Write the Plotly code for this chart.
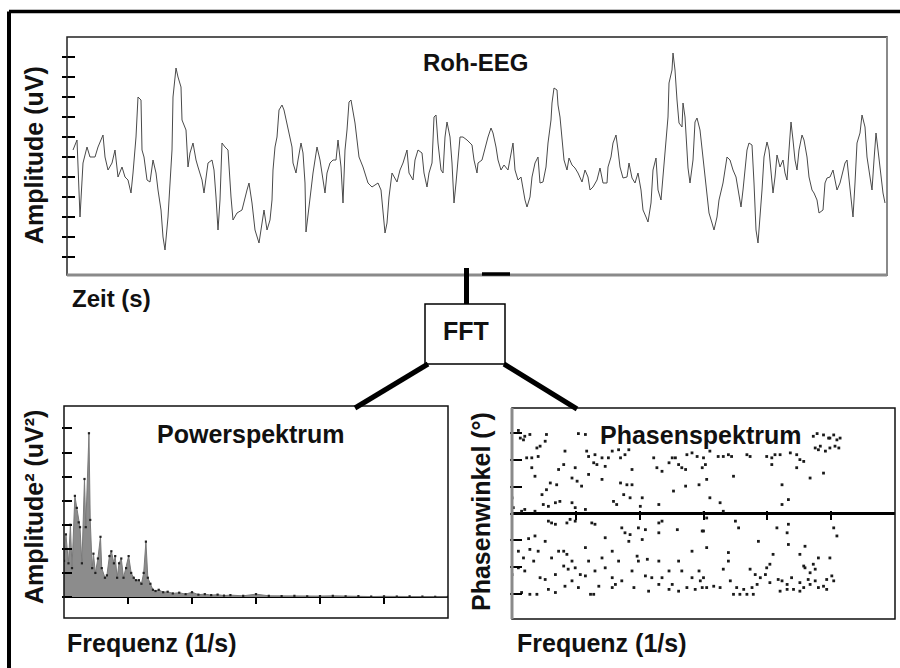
import plotly.graph_objects as go

# ---------------- data ----------------
# Raw EEG: time in samples, amplitude in uV
eeg_t = [6,10,13,15,16,20,23,28,31,36,38,41,45,48,51,55,58,61,64,66,69,71,74,75,77,80,83,86,89,91,94,96,98,101,103,105,106,109,111,114,115,119,121,123,126,129,131,135,137,141,145,147,149,151,153,155,158,161,164,166,170,175,180,182,185,188,192,195,197,200,203,
         205,206,208,210,212,215,217,220,222,225,226,229,231,234,236,238,239,241,244,246,248,250,253,256,258,260,263,266,269,271,274,276,278,280,282,284,286,288,290,292,296,299,301,305,308,311,314,316,318,320,322,325,327,330,333,336,340,342,346,348,351,355,357,360,362,365,367,369,371,374,376,378,380,383,385,387,389,391,393,396,400,405,407,410,
         411,415,418,421,424,426,429,431,434,437,441,443,446,448,451,454,456,458,460,463,465,468,471,473,476,479,481,484,485,487,490,491,493,495,497,500,502,505,508,511,515,518,521,523,526,530,533,536,540,541,544,546,549,551,553,556,560,562,565,568,571,574,576,579,581,584,586,589,591,594,596,599,601,602,605,606,608,610,612,615,
         616,618,620,621,623,626,628,630,633,636,638,640,642,645,647,650,652,656,658,660,663,666,669,671,674,676,678,680,682,685,687,689,691,693,695,697,700,702,704,706,708,710,713,716,718,720,722,724,726,728,730,732,735,737,740,742,745,747,750,752,756,758,760,763,766,768,770,773,776,778,780,783,786,788,790,793,795,798,800,803,805,807,809,811,814,816,818]
eeg_uv = [3.5,8.5,-30,-11.5,-3,5,0,0,5,11,0,-6.5,-3,3.5,-10,-5,-10,-11.5,-18,-8,10,30,28.5,3.5,0,-11.5,-12.5,-1.5,-8,-16.5,-26.5,-40,-46.5,-30,-13,3.5,30,44.5,40,35,18.5,13.5,-5,2,7,-1.5,-5,-11.5,-18,-3,-1.5,-6.5,-20,-36.5,-21.5,7,5,3.5,-20,-31.5,-28,-26.5,-16.5,-13,-23,-36.5,-43,-33,-26.5,-36.5,-31.5,
          -21.5,-6.5,5,10,23.5,26,23.5,16,12,5,-3,-8,-1.5,7,2,-13,-37.5,-30,-16.5,-8,-1.5,5,-1.5,-13,-18,-8,-3,-1.5,-1.5,8.5,-5,-23,3.5,13.5,27.5,28.5,23.5,17,8.5,0,-5,-10,-13,-15,-14,-13,-16.5,-26.5,-38,-33,-20,-8,-10,-12.5,-6.5,-3,3.5,-8,-11.5,-1.5,3.5,2,-8,-15,-8,-3,20,21,7,-6.5,-8,10,17.5,10,-3,-23,-13,0,10,10,8.5,6,-1.5,-8,
          -3,-1.5,5,10,14.5,12,5,-1.5,-6.5,-4,-6.5,-1.5,7,-6.5,-11.5,-10,-16.5,-21.5,-25,-20,-10,-3,0,-13,-12.5,-5,7,18.5,27,34.5,33.5,26,20,10,-1.5,-6.5,-0.5,-4,-5.5,-8,-12.5,-6.5,-10,-16.5,-15,-11.5,-5.5,-13,-13,-5,0,7,11,3.5,-5,-10.5,-10,-3,-10.5,-13,-8,-16.5,-26.5,-30,-32.5,-23,-6.5,-0.5,-16.5,-21.5,-10,5,20,37,43.5,52,43.5,28.5,17,15,
          27,20,3.5,-5.5,-13,-1.5,17.5,19.5,13.5,0,-10,-18,-28,-33,-36.5,-30,-21.5,-13,-5,0,-1.5,-6.5,-10,-16.5,-25,-16.5,-6.5,3.5,7,6,-13,-36.5,-43,-31.5,-16.5,0,7.5,3.5,-6.5,-18,-10,1,-5,-1.5,-8,-11.5,3.5,17.5,8.5,-1.5,-6.5,3.5,11,8.5,0,-10,-16.5,-18,-21.5,-28,-26.5,-13,-10.5,-10,-6.5,-11.5,-16.5,-13,-6.5,-3,-1.5,-16.5,-30,-13,7,12,21,15,0,-10,-16.5,-1.5,12,3.5,-10,-18,-23]
eeg_ticks = [-50, -40, -30, -20, -10, 0, 10, 20, 30, 40, 50]

# Power spectrum: frequency (Hz), power (uV^2)
pow_f = [0,0.3,0.7,1.0,1.25,1.7,2.0,2.3,2.5,2.8,3.2,3.4,3.9,4.1,4.4,4.6,4.9,5.3,5.7,5.9,6.4,6.7,7.1,7.4,7.8,8.0,8.3,8.6,8.95,9.3,9.7,10.1,10.5,10.9,11.25,11.7,12.1,12.45,12.8,13.1,13.5,13.9,14.3,
         14.8,15.5,16.2,17,18,19,20,21,22,23,24,25,26,28,30,32,34,36,38,40,42,44,46,48,50,52,54,56,58,60]
pow_p = [1.5,2.6,1.4,3.0,1.2,4.2,3.7,3.1,2.9,1.4,4.9,2.9,6.8,3.2,1.2,1.8,1.0,1.6,2.5,1.2,0.8,0.9,1.7,1.9,1.4,1.7,0.8,1.4,1.6,0.8,1.2,1.7,1.0,0.8,0.7,0.7,0.55,1.0,2.3,0.8,0.55,0.3,0.25,
         0.3,0.2,0.22,0.15,0.18,0.12,0.2,0.1,0.12,0.08,0.1,0.06,0.08,0.05,0.12,0.05,0.04,0.05,0.03,0.04,0.05,0.03,0.04,0.02,0.03,0.02,0.03,0.02,0.01,0.01]
pow_ticks_y = [0, 1, 2, 3, 4, 5, 6, 7]
freq_ticks = [10, 20, 30, 40, 50]

# Phase spectrum: frequency (Hz), phase angle (deg)
ph_f = [1.0,1.3,1.8,2.0,2.8,3.9,4.4,5.4,5.2,2.3,3.1,4.1,3.1,3.6,4.7,5.4,6.0,7.0,7.3,8.1,8.3,9.4,9.9,10.2,10.4,11.5,11.7,12.0,12.8,13.3,13.0,14.1,14.6,15.1,15.7,16.7,17.0,17.7,18.3,18.8,18.0,17.0,15.9,16.4,17.5,18.5,18.8,20.4,20.1,23.0,22.2,22.7,23.5,24.6,25.1,25.6,26.1,26.6,27.2,27.4,28.2,29.0,29.8,29.3,27.2,25.3,6.8,7.5,9.4,9.9,11.5,12.0,14.1,10.9,2.0,3.6,5.7,4.9,0.2,1.5,0.0,
        5.7,6.2,6.8,8.6,9.1,9.9,12.5,13.0,17.2,17.7,18.5,19.8,20.9,23.0,23.5,25.9,29.8,23.0,20.4,18.3,14.6,11.5,8.1,7.3,5.2,3.6,2.6,1.0,1.8,2.8,4.1,3.4,6.2,8.6,9.4,12.0,14.1,15.7,16.7,19.6,19.8,21.2,23.0,26.1,28.2,29.3,1.0,2.0,4.4,5.2,6.8,8.1,8.8,9.9,10.7,11.5,13.0,14.6,15.7,17.2,18.8,20.9,21.9,23.5,24.6,25.1,26.6,28.2,29.5,1.5,2.8,3.9,5.7,6.8,8.3,9.4,10.4,12.3,12.8,13.6,15.7,16.2,19.1,21.4,23.0,24.6,26.1,27.4,28.7,29.8,0.0,
        30.0,31.0,32.3,33.1,33.9,34.4,36.8,37.3,39.9,40.7,41.2,42.0,43.6,44.6,45.1,40.7,44.6,45.7,46.7,48.8,47.8,48.8,49.6,50.4,50.9,48.3,49.1,49.8,50.6,51.2,51.4,49.8,47.5,47.2,48.0,30.3,34.7,42.3,43.3,42.3,30.5,31.0,32.6,33.1,30.0,
        30.5,35.0,35.5,30.0,30.5,38.6,41.5,43.1,43.3,50.4,50.9,43.3,45.9,33.9,33.9,40.9,45.1,48.0,47.2,45.7,40.4,39.9,37.3,38.1,38.9,39.7,40.4,41.7,42.3,43.1,43.8,45.1,45.7,46.4,46.7,47.5,48.0,48.8,49.3,50.1,50.4,45.9,47.5,46.7,34.2,35.2,34.7,35.7,36.3,36.8,37.6,38.4,32.6,30.5,31.6,37.8,42.0,43.1,44.1,45.1,49.3,49.8,33.1,30.0]
ph_deg = [185,168,164,172,176,146,150,176,161,124,124,127,102,83,42,53,68,64,98,109,139,79,102,72,178,176,139,127,113,109,131,124,105,124,139,142,124,131,142,98,64,68,27,20,42,35,64,35,16,20,124,102,94,113,124,124,109,102,98,131,135,127,102,64,61,50,24,27,24,13,9,87,76,61,9,5,16,20,13,5,35,
          -17,-21,-24,-21,-13,-17,-21,-24,-32,-43,-47,-32,-36,-21,-17,-36,-39,-43,-58,-62,-54,-76,-84,-84,-62,-50,-56,-84,-99,-80,-84,-106,-99,-91,-106,-106,-99,-84,-106,-95,-106,-102,-106,-106,-84,-128,-121,-128,-143,-147,-136,-117,-124,-121,-136,-139,-128,-121,-143,-150,-128,-139,-143,-143,-128,-158,-128,-143,-150,-176,-180,-180,-169,-176,-162,-150,-165,-180,-180,-162,-165,-158,-165,-173,-158,-169,-173,-165,-169,-165,-136,
          124,139,127,127,131,127,131,127,127,124,131,131,135,131,120,109,102,116,79,90,178,175,168,175,164,150,139,146,150,146,168,168,146,172,142,109,83,64,31,20,76,35,24,5,1,
          -10,-17,-32,-39,-76,-62,-32,-43,-24,-32,-50,-69,-73,-87,-106,-91,-91,-99,-113,-117,-113,-121,-124,-136,-143,-136,-154,-147,-150,-158,-143,-154,-165,-147,-158,-150,-165,-162,-147,-139,-150,-121,-124,-132,-150,-165,-180,-180,-169,-180,-165,-158,-165,-165,-162,-180,-173,-169,-169,-173,-169,-99,-124,-143]
ph_ticks_y = [-180, -120, -60, 0, 60, 120, 180]

# ---------------- layout helpers (pixel -> paper) ----------------
W, H = 900, 668
def PX(x): return x / W
def PY(y): return 1 - y / H

FONT = "Liberation Sans, Arial, sans-serif"
INK = "#111111"

fig = go.Figure()

fig.add_trace(go.Scatter(x=eeg_t, y=eeg_uv, mode="lines",
                         line=dict(color="#4a4a4a", width=1),
                         xaxis="x", yaxis="y", showlegend=False, hoverinfo="skip"))

fig.add_trace(go.Scatter(x=pow_f, y=pow_p, mode="lines", fill="tozeroy",
                         fillcolor="#8c8c8c", line=dict(color="#7a7a7a", width=1),
                         xaxis="x2", yaxis="y2", showlegend=False, hoverinfo="skip"))
fig.add_trace(go.Scatter(x=pow_f, y=pow_p, mode="markers",
                         marker=dict(color="#222", size=2.2, symbol="square"),
                         xaxis="x2", yaxis="y2", showlegend=False, hoverinfo="skip"))

fig.add_trace(go.Scatter(x=ph_f, y=ph_deg, mode="markers",
                         marker=dict(color="#1a1a1a", size=2.8, symbol="square"),
                         xaxis="x3", yaxis="y3", showlegend=False, hoverinfo="skip"))

# panel domains (pixels)
top_dom_x = [PX(67), PX(887)]
top_dom_y = [PY(275), PY(37)]
pow_dom_x = [PX(64), PX(448)]
pow_dom_y = [PY(618), PY(406)]
ph_dom_x = [PX(512), PX(895)]
ph_dom_y = [PY(619), PY(408)]

hidden = dict(showgrid=False, zeroline=False, showline=False, showticklabels=False, ticks="")
tk = dict(tickcolor="black", tickwidth=1.6, showticklabels=False, showgrid=False, showline=False)

fig.update_layout(
    width=W, height=H, margin=dict(l=0, r=0, t=0, b=0),
    paper_bgcolor="white", plot_bgcolor="rgba(0,0,0,0)",
    # top: raw EEG (ticks cross the left frame edge)
    xaxis=dict(domain=top_dom_x, range=[0, 820], anchor="y", **hidden),
    yaxis=dict(domain=top_dom_y, range=[-59, 60], anchor="free", position=PX(75),
               tickvals=eeg_ticks, ticks="outside", ticklen=13, zeroline=False, **tk),

    # power spectrum
    xaxis2=dict(domain=pow_dom_x, range=[0, 60], anchor="free", position=PY(597),
                tickvals=freq_ticks, ticks="outside", ticklen=6, zeroline=False, **tk),
    yaxis2=dict(domain=pow_dom_y, range=[-0.87, 7.93], anchor="free", position=PX(72),
                tickvals=pow_ticks_y, ticks="outside", ticklen=10,
                zeroline=True, zerolinecolor="black", zerolinewidth=2, **tk),

    # phase spectrum
    xaxis3=dict(domain=ph_dom_x, range=[0, 60], anchor="free", position=PY(510),
                tickvals=freq_ticks, ticks="outside", ticklen=9, zeroline=False, **tk),
    yaxis3=dict(domain=ph_dom_y, range=[-235, 235], anchor="free", position=PX(522),
                tickvals=ph_ticks_y, ticks="outside", ticklen=12,
                zeroline=True, zerolinecolor="black", zerolinewidth=3, **tk),
)

shapes = []
def pline(x0, y0, x1, y1, w, c="black"):
    shapes.append(dict(type="line", xref="paper", yref="paper",
                       x0=PX(x0), y0=PY(y0), x1=PX(x1), y1=PY(y1),
                       line=dict(color=c, width=w)))
def frame(xr, yr, w=1.5, c="black"):
    shapes.append(dict(type="rect", xref=xr + " domain", yref=yr + " domain",
                       x0=0, y0=0, x1=1, y1=1, line=dict(color=c, width=w), layer="above"))

# outer frame (top and left edges visible)
pline(9, 11.5, 900, 11.5, 3.5)
pline(9, 11.5, 9, 668, 4)

# panel frames
frame("x", "y", 1.5, "#222")
shapes.append(dict(type="line", xref="x domain", yref="y domain", x0=0, y0=0, x1=1, y1=0,
                   line=dict(color="#8a8a8a", width=3), layer="above"))
shapes.append(dict(type="line", xref="x domain", yref="y domain", x0=1, y0=0, x1=1, y1=1,
                   line=dict(color="#8a8a8a", width=2), layer="above"))
frame("x2", "y2", 1.5, "#111")
frame("x3", "y3", 1.5, "#111")
shapes.append(dict(type="line", xref="x3 domain", yref="y3 domain", x0=0, y0=0, x1=0, y1=1,
                   line=dict(color="#8a8a8a", width=3), layer="above"))

# connector to FFT box
pline(482, 274, 510, 274, 3.5)
pline(466.5, 268, 466.5, 307, 5)
shapes.append(dict(type="rect", xref="paper", yref="paper",
                   x0=PX(425), y0=PY(364), x1=PX(505), y1=PY(304),
                   line=dict(color="black", width=1.5), fillcolor="white"))
pline(428, 364, 355, 408, 5)
pline(504, 364, 577, 409, 5)

fig.update_layout(shapes=shapes)

def label(text, x, y, size=25, angle=0):
    fig.add_annotation(text=text, x=PX(x), y=PY(y), xref="paper", yref="paper",
                       showarrow=False, textangle=angle, xanchor="center", yanchor="middle",
                       font=dict(family=FONT, size=size, color=INK, weight="bold"))

label("Roh-EEG", 475, 63, 24)
label("Zeit (s)", 111, 298, 24)
label("Amplitude (uV)", 34, 155, 25, -90)
label("FFT", 466, 331, 25)
label("Powerspektrum", 251, 434, 25)
label("Amplitude² (uV²)", 34, 507, 25, -90)
label("Frequenz (1/s)", 151, 643, 25)
label("Phasenspektrum", 700, 435, 25)
label("Phasenwinkel (°)", 481, 512, 25, -90)
label("Frequenz (1/s)", 601, 643, 25)

fig.write_html("out.html")
